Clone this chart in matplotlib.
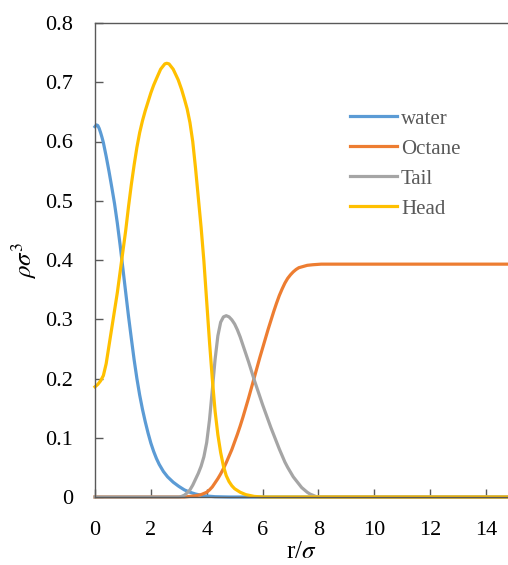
import matplotlib
matplotlib.use("Agg")
import matplotlib.pyplot as plt

plt.rcParams['font.family'] = ['Liberation Serif', 'DejaVu Serif']
plt.rcParams['mathtext.fontset'] = 'stix'

# ---- data ----
water_r = [0, 0.05, 0.1, 0.15, 0.2, 0.25, 0.3, 0.4, 0.5, 0.6, 0.7, 0.8, 0.9, 1.0,
           1.1, 1.2, 1.3, 1.4, 1.5, 1.6, 1.7, 1.8, 1.9, 2.0, 2.1, 2.2, 2.3, 2.45,
           2.6, 2.8, 3.0, 3.2, 3.4, 3.6, 3.9, 4.3, 4.8, 15]
water_v = [0.625, 0.628, 0.627, 0.622, 0.615, 0.607, 0.598, 0.575, 0.55, 0.523,
           0.495, 0.462, 0.425, 0.385, 0.345, 0.305, 0.268, 0.232, 0.2, 0.172,
           0.148, 0.127, 0.108, 0.091, 0.077, 0.065, 0.055, 0.043, 0.034, 0.025,
           0.018, 0.012, 0.008, 0.005, 0.002, 0.0005, 0.0, 0.0]

octane_r = [0, 3.2, 3.4, 3.6, 3.8, 4.0, 4.1, 4.2, 4.3, 4.4, 4.5, 4.6, 4.7, 4.8,
            4.9, 5.0, 5.1, 5.2, 5.3, 5.4, 5.5, 5.6, 5.7, 5.8, 5.9, 6.0, 6.1, 6.2,
            6.3, 6.4, 6.5, 6.6, 6.7, 6.8, 6.9, 7.0, 7.1, 7.2, 7.3, 7.45, 7.6, 7.8,
            8.1, 15]
octane_v = [0, 0, 0.001, 0.002, 0.004, 0.008, 0.012, 0.017, 0.024, 0.031, 0.039,
            0.048, 0.058, 0.069, 0.08, 0.093, 0.106, 0.12, 0.135, 0.151, 0.167,
            0.184, 0.201, 0.218, 0.235, 0.251, 0.267, 0.283, 0.298, 0.313, 0.327,
            0.34, 0.351, 0.361, 0.369, 0.375, 0.38, 0.384, 0.387, 0.389, 0.391,
            0.392, 0.393, 0.393]

tail_r = [0, 3.0, 3.1, 3.2, 3.3, 3.4, 3.5, 3.6, 3.7, 3.8, 3.9, 4.0, 4.1, 4.2, 4.3,
          4.4, 4.5, 4.6, 4.7, 4.8, 4.9, 5.0, 5.1, 5.2, 5.3, 5.4, 5.5, 5.6, 5.7,
          5.8, 5.9, 6.0, 6.1, 6.2, 6.3, 6.4, 6.5, 6.6, 6.7, 6.8, 6.9, 7.0, 7.1,
          7.2, 7.3, 7.4, 7.5, 7.6, 7.7, 7.8, 7.9, 8.0, 15]
tail_v = [0, 0, 0.001, 0.003, 0.007, 0.012, 0.02, 0.03, 0.04, 0.052, 0.068, 0.092,
          0.13, 0.18, 0.232, 0.272, 0.295, 0.304, 0.306, 0.304, 0.299, 0.292,
          0.282, 0.27, 0.256, 0.242, 0.228, 0.213, 0.198, 0.184, 0.17, 0.156,
          0.143, 0.13, 0.117, 0.105, 0.093, 0.081, 0.07, 0.059, 0.05, 0.042,
          0.034, 0.028, 0.022, 0.016, 0.012, 0.008, 0.005, 0.003, 0.001, 0.0, 0.0]

head_r = [0, 0.1, 0.2, 0.3, 0.4, 0.5, 0.6, 0.7, 0.8, 0.9, 1.0, 1.1, 1.2, 1.3, 1.4,
          1.5, 1.6, 1.7, 1.8, 1.9, 2.0, 2.1, 2.2, 2.35, 2.5, 2.57, 2.65, 2.8,
          2.98, 3.1, 3.2, 3.3, 3.4, 3.5, 3.6, 3.7, 3.8, 3.9, 4.0, 4.1, 4.2, 4.3,
          4.4, 4.5, 4.6, 4.7, 4.8, 4.9, 5.0, 5.2, 5.4, 5.7, 6.0, 15]
head_v = [0.186, 0.19, 0.196, 0.205, 0.225, 0.255, 0.285, 0.315, 0.345, 0.38,
          0.415, 0.45, 0.49, 0.527, 0.56, 0.59, 0.615, 0.635, 0.652, 0.667,
          0.682, 0.695, 0.706, 0.722, 0.731, 0.732, 0.731, 0.722, 0.704, 0.688,
          0.672, 0.655, 0.632, 0.6, 0.555, 0.505, 0.455, 0.398, 0.33, 0.262, 0.2,
          0.145, 0.105, 0.075, 0.052, 0.036, 0.026, 0.019, 0.014, 0.008, 0.004,
          0.001, 0.0, 0.0]

x_ticks = [0, 2, 4, 6, 8, 10, 12, 14]
y_ticks = [0, 0.1, 0.2, 0.3, 0.4, 0.5, 0.6, 0.7, 0.8]
y_tick_labels = ['0', '0.1', '0.2', '0.3', '0.4', '0.5', '0.6', '0.7', '0.8']

W, H = 508, 565
fig = plt.figure(figsize=(W / 100, H / 100), dpi=100)
ax = fig.add_axes([95 / W, 1 - 497 / H, (508 - 95) / W, (497 - 23) / H])

lw = 2.3
ax.plot(water_r, water_v, color='#5B9BD5', lw=lw, label='water', clip_on=False)
ax.plot(octane_r, octane_v, color='#ED7D31', lw=lw, label='Octane', clip_on=False)
ax.plot(tail_r, tail_v, color='#A5A5A5', lw=lw, label='Tail', clip_on=False)
ax.plot(head_r, head_v, color='#FFC000', lw=lw, label='Head', clip_on=False)

ax.set_xlim(0, 14.79)
ax.set_ylim(0, 0.8)
ax.set_xticks(x_ticks)
ax.set_yticks(y_ticks)
ax.set_yticklabels(y_tick_labels)

spine_c = '#595959'
for s in ['left', 'top', 'bottom']:
    ax.spines[s].set_color(spine_c)
    ax.spines[s].set_linewidth(1.0)
ax.spines['right'].set_visible(False)

ax.tick_params(axis='both', direction='in', length=6, width=1.0, color=spine_c,
               labelsize=16, labelcolor='black')
ax.tick_params(axis='x', pad=17)
ax.tick_params(axis='y', pad=16)

ax.set_xlabel(r'r/$\sigma$', fontsize=18, labelpad=1)
ax.set_ylabel(r'$\rho\sigma^3$', fontsize=18, labelpad=4)

leg = ax.legend(loc='upper left', bbox_to_anchor=((350 - 95) / 413, 1 - (109 - 23) / 474),
                frameon=False, fontsize=15, handlelength=2.25, handletextpad=0.2,
                labelspacing=0.5, borderpad=0, borderaxespad=0)
for t in leg.get_texts():
    t.set_color('#595959')

fig.savefig('out.png', dpi=100)
